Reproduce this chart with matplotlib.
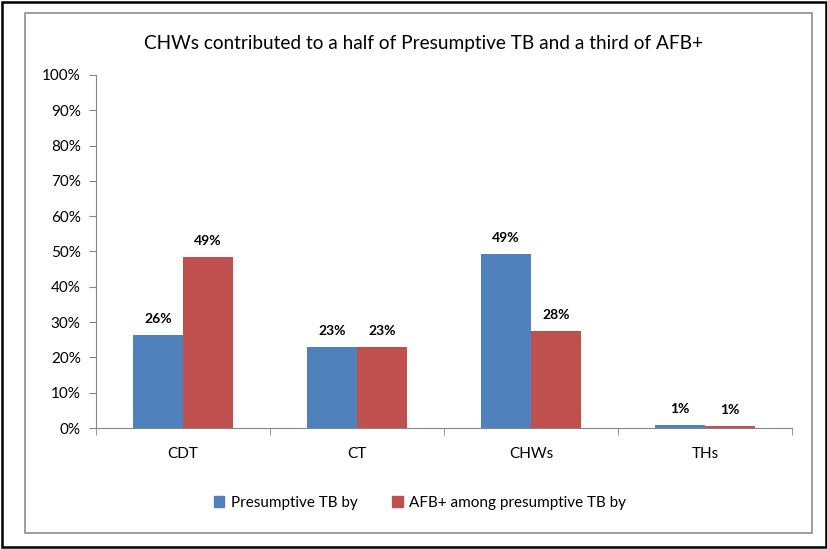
import numpy as np
import matplotlib
matplotlib.use("Agg")
import matplotlib.pyplot as plt
from matplotlib.patches import Rectangle, Patch
from matplotlib.ticker import PercentFormatter

# data
categories = ["CDT", "CT", "CHWs", "THs"]
presumptive = [26.4, 23.0, 49.3, 0.9]
afb_pos = [48.5, 23.0, 27.6, 0.6]
presumptive_lbl = ["26%", "23%", "49%", "1%"]
afb_lbl = ["49%", "23%", "28%", "1%"]
series_names = ["Presumptive TB by", "AFB+ among presumptive TB by"]
title = "CHWs contributed to a half of Presumptive TB and a third of AFB+"

blue = "#4F81BD"
red = "#C0504D"
axis_grey = "#868686"

plt.rcParams["font.family"] = ["Lato", "DejaVu Sans"]

W, H = 828, 549
fig = plt.figure(figsize=(W / 100, H / 100), dpi=100)

# outer black frame and inner grey chart-area frame
fig.patches.append(Rectangle((2 / W, 2 / H), 824 / W, 545 / H, transform=fig.transFigure,
                             fill=False, edgecolor="black", linewidth=1.8))
fig.patches.append(Rectangle((25 / W, 16 / H), 787 / W, 520 / H, transform=fig.transFigure,
                             fill=False, edgecolor="#8c8c8c", linewidth=1.2))

ax = fig.add_axes([96 / W, (H - 428) / H, (792 - 96) / W, (428 - 75) / H])

x = np.arange(len(categories))
bw = 0.287
b1 = ax.bar(x - bw / 2, presumptive, bw, color=blue)
b2 = ax.bar(x + bw / 2, afb_pos, bw, color=red)

for bars, labels in ((b1, presumptive_lbl), (b2, afb_lbl)):
    for rect, lab in zip(bars, labels):
        ax.annotate(lab, (rect.get_x() + rect.get_width() / 2, rect.get_height()),
                    xytext=(0, 7), textcoords="offset points", ha="center", va="bottom",
                    fontsize=10, fontweight="bold", color="black")

ax.set_ylim(0, 100)
ax.set_xlim(-0.5, len(categories) - 0.5)
ax.set_yticks(np.arange(0, 101, 10))
ax.yaxis.set_major_formatter(PercentFormatter(decimals=0))

ax.set_xticks(x)
ax.set_xticklabels(categories)
ax.set_xticks(np.arange(-0.5, len(categories), 1), minor=True)
ax.tick_params(axis="x", which="major", length=0, pad=14, labelsize=11)
ax.tick_params(axis="x", which="minor", length=5, color=axis_grey)
ax.tick_params(axis="y", length=5, color=axis_grey, labelsize=11, pad=6)

for s in ("top", "right"):
    ax.spines[s].set_visible(False)
for s in ("left", "bottom"):
    ax.spines[s].set_color(axis_grey)

fig.text(424 / W, 1 - 43 / H, title, ha="center", va="center", fontsize=13.7)

handles = [Patch(color=blue), Patch(color=red)]
fig.legend(handles, series_names, loc="center", bbox_to_anchor=(420 / W, 1 - 503 / H),
           ncol=2, frameon=False, fontsize=11, handlelength=0.7, handleheight=0.7,
           handletextpad=0.4, columnspacing=2.3)

fig.savefig("out.png", dpi=100)
